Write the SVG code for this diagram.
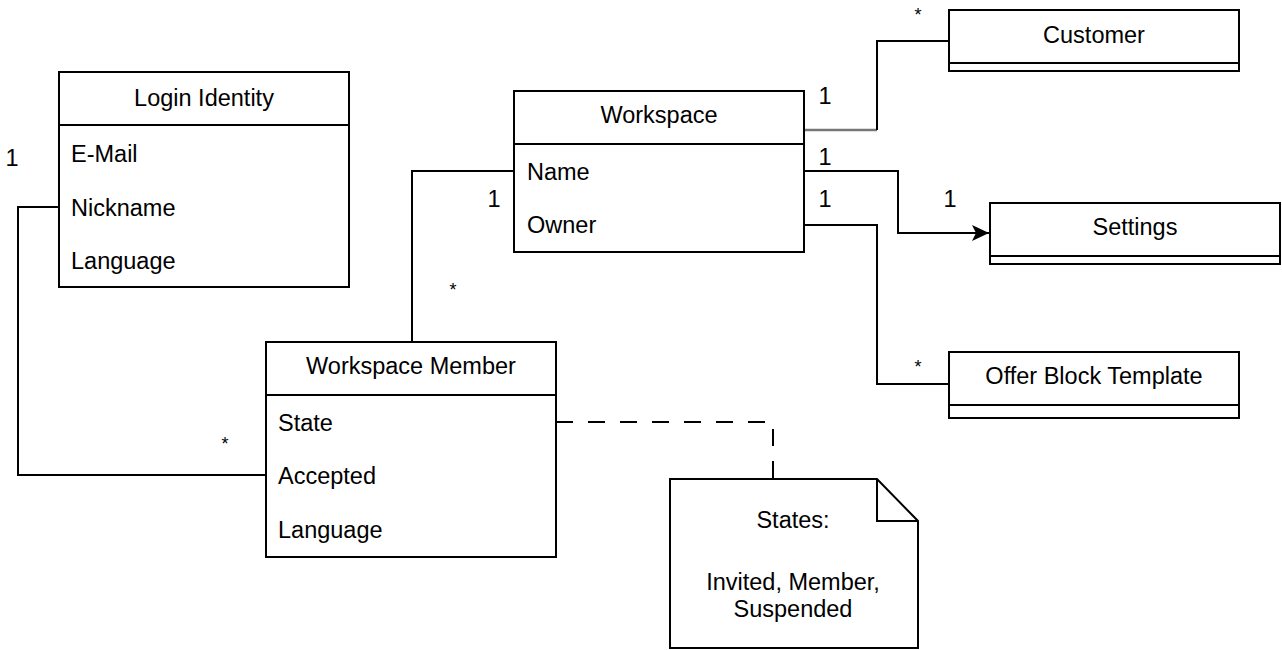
<svg xmlns="http://www.w3.org/2000/svg" width="1282" height="650" viewBox="0 0 1282 650">
  <style>
    .box { fill: #ffffff; stroke: #000000; stroke-width: 2; }
    .sep { stroke: #000000; stroke-width: 2; fill: none; }
    .edge { fill: none; stroke: #000000; stroke-width: 2; }
    .note-link { fill: none; stroke: #000000; stroke-width: 2; stroke-dasharray: 17 15; }
    text { font-family: "Liberation Sans", Arial, Helvetica, sans-serif; font-size: 23.5px; fill: #000000; }
    .title { text-anchor: middle; }
    .mid { text-anchor: middle; }
    .many { text-anchor: middle; font-size: 18px; }
  </style>
  <defs>
    <marker id="arrow" markerUnits="userSpaceOnUse" markerWidth="20" markerHeight="18" refX="17" refY="8" orient="auto">
      <path d="M0,0 L17,8 L0,16 L4,8 Z" fill="#000000"/>
    </marker>
  </defs>

  <!-- connectors -->
  <g id="connectors">
    <!-- Workspace to Customer -->
    <polyline class="edge" points="804,130 877,130" style="stroke:#777777;stroke-width:2.5"/>
    <polyline class="edge" points="877,130 877,41 949,41"/>
    <!-- Workspace.Name to Settings -->
    <polyline class="edge" points="804,171 898,171 898,233 989,233" marker-end="url(#arrow)"/>
    <!-- Workspace.Owner to Offer Block Template -->
    <polyline class="edge" points="804,225 877,225 877,384 949,384"/>
    <!-- Workspace.Name to Workspace Member -->
    <polyline class="edge" points="514,171 412,171 412,342"/>
    <!-- Login Identity.Nickname to Workspace Member -->
    <polyline class="edge" points="59,207 18,207 18,475 266,475"/>
    <!-- Workspace Member.State to note -->
    <polyline class="note-link" points="556,422 773,422 773,479"/>

    <!-- multiplicities -->
    <text x="12" y="166" class="mid">1</text>
    <text x="825" y="104" class="mid">1</text>
    <text x="825" y="165" class="mid">1</text>
    <text x="825" y="207" class="mid">1</text>
    <text x="950" y="207" class="mid">1</text>
    <text x="494" y="207" class="mid">1</text>
    <text x="918" y="21" class="many">*</text>
    <text x="453" y="296" class="many">*</text>
    <text x="225" y="450" class="many">*</text>
    <text x="918" y="373" class="many">*</text>
  </g>

  <!-- Login Identity -->
  <g id="login-identity">
    <rect class="box" x="59" y="72" width="290" height="215"/>
    <line class="sep" x1="59" y1="125" x2="349" y2="125"/>
    <text x="204" y="106" class="title">Login Identity</text>
    <text x="71" y="162">E-Mail</text>
    <text x="71" y="216">Nickname</text>
    <text x="71" y="269">Language</text>
  </g>

  <!-- Workspace -->
  <g id="workspace">
    <rect class="box" x="514" y="91" width="290" height="161"/>
    <line class="sep" x1="514" y1="144" x2="804" y2="144"/>
    <text x="659" y="123" class="title">Workspace</text>
    <text x="527" y="180">Name</text>
    <text x="527" y="233">Owner</text>
  </g>

  <!-- Workspace Member -->
  <g id="workspace-member">
    <rect class="box" x="266" y="342" width="290" height="215"/>
    <line class="sep" x1="266" y1="395" x2="556" y2="395"/>
    <text x="411" y="374" class="title">Workspace Member</text>
    <text x="278" y="431">State</text>
    <text x="278" y="484">Accepted</text>
    <text x="278" y="538">Language</text>
  </g>

  <!-- Customer -->
  <g id="customer">
    <rect class="box" x="949" y="10" width="290" height="61"/>
    <line class="sep" x1="949" y1="63" x2="1239" y2="63"/>
    <text x="1094" y="43" class="title">Customer</text>
  </g>

  <!-- Settings -->
  <g id="settings">
    <rect class="box" x="990" y="203" width="290" height="61"/>
    <line class="sep" x1="990" y1="256" x2="1280" y2="256"/>
    <text x="1135" y="235" class="title">Settings</text>
  </g>

  <!-- Offer Block Template -->
  <g id="offer-block-template">
    <rect class="box" x="949" y="352" width="290" height="66"/>
    <line class="sep" x1="949" y1="405" x2="1239" y2="405"/>
    <text x="1094" y="384" class="title">Offer Block Template</text>
  </g>

  <!-- State note -->
  <g id="states-note">
    <path class="box" d="M670,479 L877,479 L918,521 L918,648 L670,648 Z"/>
    <path class="sep" d="M877,479 L877,521 L918,521"/>
    <text x="793" y="528" class="mid">States:</text>
    <text x="793" y="590" class="mid">Invited, Member,</text>
    <text x="793" y="617" class="mid">Suspended</text>
  </g>
</svg>
